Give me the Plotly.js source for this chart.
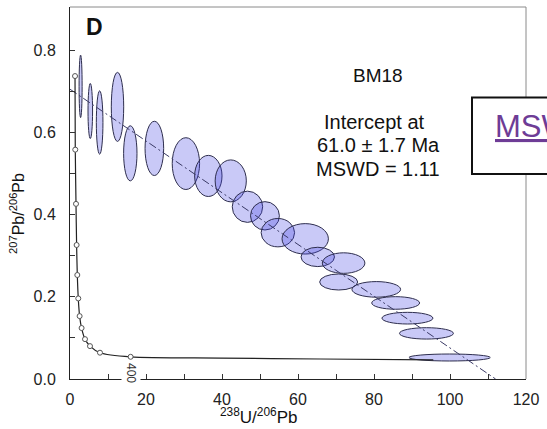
<!DOCTYPE html>
<html><head><meta charset="utf-8">
<script src="https://cdn.plot.ly/plotly-3.0.1.min.js"></script>
<style>html,body{margin:0;padding:0;background:#fff;} #chart{width:547px;height:429px;}</style>
</head><body><div id="chart"></div>
<script>
// Measured ellipses: centre and half-width in 238U/206Pb and 207Pb/206Pb
const ellX  = [2.79, 5.34, 7.8, 12.5, 15.87, 22.2, 30.5, 36.4, 42.3, 46.7, 51.3, 54.7, 61.9, 65.2, 72.0, 70.7, 80.6, 85.7, 88.8, 93.8, 99.9];
const ellY  = [0.712, 0.652, 0.624, 0.662, 0.549, 0.561, 0.524, 0.494, 0.482, 0.419, 0.397, 0.356, 0.341, 0.297, 0.282, 0.236, 0.218, 0.185, 0.148, 0.111, 0.0523];
const ellSX = [0.4, 0.6, 0.87, 1.63, 1.76, 2.45, 3.6, 3.6, 4.1, 4.0, 3.8, 4.4, 6.1, 4.4, 5.6, 5.0, 6.4, 6.3, 6.7, 7.1, 10.7];
const ellSY = [0.076, 0.067, 0.077, 0.084, 0.067, 0.066, 0.063, 0.050, 0.051, 0.038, 0.0345, 0.0345, 0.037, 0.0235, 0.025, 0.0195, 0.019, 0.0153, 0.0142, 0.0138, 0.0085];

// Concordia age marks (circles) and the flat tail of the curve
const markX = [1.32, 1.39, 1.58, 1.74, 1.92, 2.18, 2.53, 3.05, 3.95, 5.26, 7.89, 15.95];
const markY = [0.737, 0.558, 0.426, 0.326, 0.253, 0.196, 0.153, 0.124, 0.097, 0.080, 0.064, 0.054];
const tailX = [39.6, 65.9, 95.6];
const tailY = [0.051, 0.0487, 0.0467];

// Discordia (regression line)
const discX = [0, 112];
const discY = [0.705, 0];

// Axis ticks
const xTickVals = [0,10,20,30,40,50,60,70,80,90,100,110,120];
const xTickText = ['0','','20','','40','','60','','80','','100','','120'];
const yTickVals = [0,0.1,0.2,0.3,0.4,0.5,0.6,0.7,0.8];
const yTickText = ['0.0','','0.2','','0.4','','0.6','','0.8'];

// Texts
const panelLabel = 'D';
const sampleName = 'BM18';
const interceptLines = ['Intercept at', '61.0 ± 1.7 Ma', 'MSWD = 1.11'];
const ageLabel = '400';
const boxText = 'MSW';

const W = 547, H = 429, ML = 70, MR = 21, MT = 7, MB = 50;
const PW = W - ML - MR, PH = H - MT - MB;
const px = v => (v - ML) / PW;
const py = v => (H - MB - v) / PH;
const FONT = 'Liberation Sans, Arial, sans-serif';

const shapes = [];
for (let i = 0; i < ellX.length; i++) {
  shapes.push({type:'circle', xref:'x', yref:'y', layer:'below',
    x0: ellX[i]-ellSX[i], x1: ellX[i]+ellSX[i], y0: ellY[i]-ellSY[i], y1: ellY[i]+ellSY[i],
    fillcolor:'rgba(60,60,225,0.28)', line:{color:'#2e2e4e', width:1}});
}
shapes.push({type:'line', xref:'paper', yref:'paper', x0:0, x1:1, y0:1, y1:1, line:{color:'#8a8a8a', width:1}});
shapes.push({type:'line', xref:'paper', yref:'paper', x0:1, x1:1, y0:0, y1:1, line:{color:'#8a8a8a', width:1}});
shapes.push({type:'rect', xref:'paper', yref:'paper', x0:px(472), x1:px(570), y0:py(174), y1:py(97.5),
  fillcolor:'#ffffff', line:{color:'#111111', width:2}});

const traces = [
  {x: discX, y: discY, mode:'lines', line:{color:'#3a3a66', width:1, dash:'8px,3px,2px,3px'}, hoverinfo:'skip'},
  {x: markX.concat(tailX), y: markY.concat(tailY), mode:'lines', line:{color:'#222', width:1.2, shape:'spline', smoothing:0.8}, hoverinfo:'skip'},
  {x: markX, y: markY, mode:'markers', marker:{symbol:'circle', size:5, color:'#ffffff', line:{color:'#555', width:1}}, hoverinfo:'skip'}
];

const annotations = [
  {xref:'paper', yref:'paper', x:px(94), y:py(27), xanchor:'center', yanchor:'middle', showarrow:false,
   text:'<b>'+panelLabel+'</b>', font:{family:FONT, size:23, color:'#111'}},
  {xref:'paper', yref:'paper', x:px(378), y:py(76), xanchor:'center', yanchor:'middle', showarrow:false,
   text:sampleName, font:{family:FONT, size:19, color:'#111'}},
  {xref:'paper', yref:'paper', x:px(374), y:py(122), xanchor:'center', yanchor:'middle', showarrow:false,
   text:interceptLines[0], font:{family:FONT, size:20, color:'#111'}},
  {xref:'paper', yref:'paper', x:px(378), y:py(145), xanchor:'center', yanchor:'middle', showarrow:false,
   text:interceptLines[1], font:{family:FONT, size:20, color:'#111'}},
  {xref:'paper', yref:'paper', x:px(378), y:py(169), xanchor:'center', yanchor:'middle', showarrow:false,
   text:interceptLines[2], font:{family:FONT, size:20, color:'#111'}},
  {xref:'paper', yref:'paper', x:px(493), y:py(126), xanchor:'left', yanchor:'middle', showarrow:false,
   text:'<u>'+boxText+'</u>', font:{family:FONT, size:31, color:'#6e3c96'}},
  {xref:'paper', yref:'paper', x:px(131), y:py(373), xanchor:'center', yanchor:'middle', showarrow:false,
   textangle:90, bgcolor:'#ffffff', borderpad:2, text:ageLabel, font:{family:FONT, size:12, color:'#333'}},
  {xref:'paper', yref:'paper', x:px(258), y:py(416), xanchor:'center', yanchor:'middle', showarrow:false,
   text:'<sup>238</sup>U/<sup>206</sup>Pb', font:{family:FONT, size:17, color:'#111'}},
  {xref:'paper', yref:'paper', x:px(17), y:py(214), xanchor:'center', yanchor:'middle', showarrow:false,
   textangle:-90, text:'<sup>207</sup>Pb/<sup>206</sup>Pb', font:{family:FONT, size:16, color:'#111'}}
];

const axisCommon = {showgrid:false, zeroline:false, showline:true, linecolor:'#222', linewidth:1,
  ticks:'inside', ticklen:5, tickcolor:'#333', tickwidth:1, tickmode:'array',
  tickfont:{family:FONT, size:16, color:'#222'}, fixedrange:true};

const layout = {
  width:W, height:H, margin:{l:ML, r:MR, t:MT, b:MB, pad:0},
  paper_bgcolor:'#ffffff', plot_bgcolor:'#ffffff', showlegend:false,
  xaxis: Object.assign({}, axisCommon, {range:[0,120], tickvals:xTickVals, ticktext:xTickText, ticklabelstandoff:6}),
  yaxis: Object.assign({}, axisCommon, {range:[0,0.905], tickvals:yTickVals, ticktext:yTickText, ticklabelstandoff:10}),
  shapes: shapes, annotations: annotations
};

Plotly.newPlot('chart', traces, layout, {displayModeBar:false, staticPlot:true});
</script></body></html>
